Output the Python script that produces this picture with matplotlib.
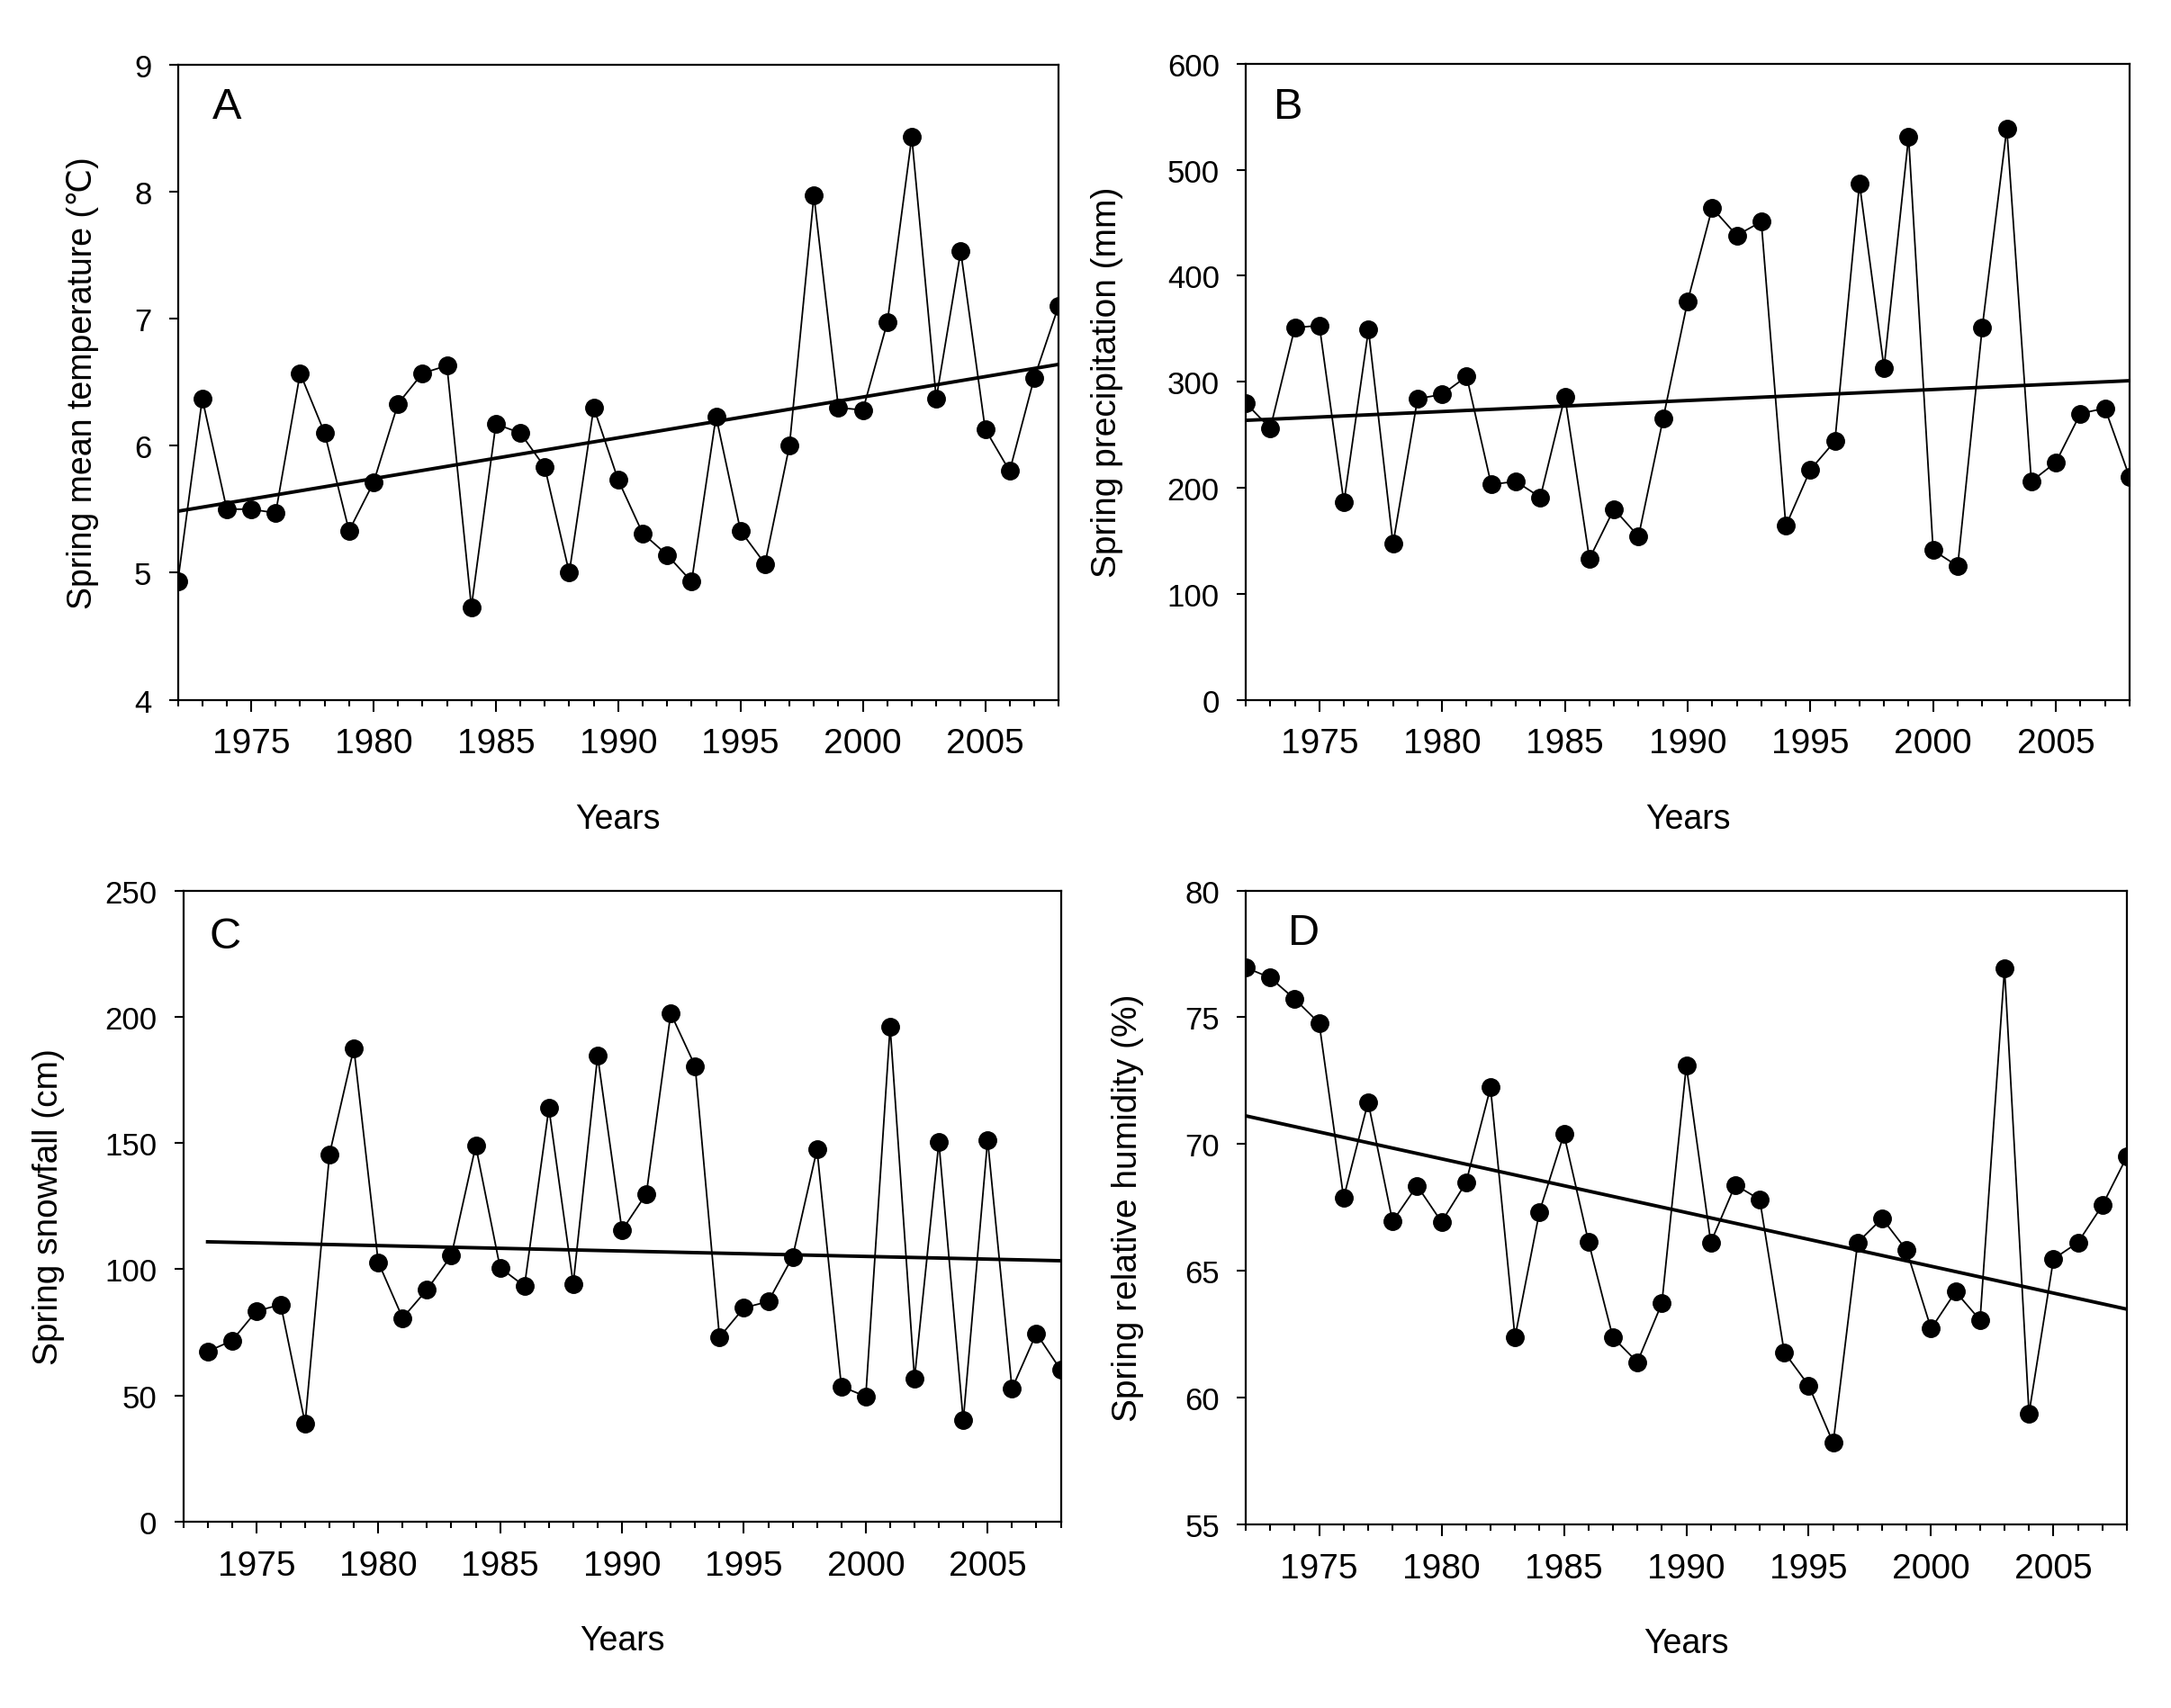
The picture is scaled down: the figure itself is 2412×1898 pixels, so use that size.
import numpy as np
import matplotlib
matplotlib.use('Agg')
import matplotlib.pyplot as plt
from matplotlib.ticker import MultipleLocator

plt.rcParams['font.family'] = ['Liberation Sans', 'DejaVu Sans', 'Noto Sans CJK SC']

years = list(range(1972, 2009))
snow_years = list(range(1973, 2009))

temp = [4.93, 6.37, 5.50, 5.50, 5.47, 6.57, 6.10, 5.33, 5.71, 6.33,
        6.57, 6.63, 4.73, 6.17, 6.10, 5.83, 5.00, 6.30, 5.73, 5.31,
        5.14, 4.93, 6.23, 5.33, 5.07, 6.00, 7.97, 6.30, 6.28, 6.97,
        8.43, 6.37, 7.53, 6.13, 5.80, 6.53, 7.10]

precip = [280, 256, 351, 353, 186, 349, 147, 284, 288, 305,
          203, 206, 191, 286, 133, 180, 154, 265, 376, 464,
          438, 451, 164, 217, 244, 487, 313, 531, 141, 126,
          351, 539, 206, 224, 270, 275, 210]

snow = [67.4, 71.7, 83.4, 86.0, 38.9, 145.5, 187.5, 102.8, 80.7,
        91.9, 105.4, 148.9, 100.6, 93.3, 163.8, 94.2, 184.5, 115.4,
        129.9, 201.3, 180.5, 73.1, 84.7, 87.2, 104.9, 147.4, 53.6,
        49.6, 196.1, 56.7, 150.3, 40.1, 151.2, 52.7, 74.6, 60.1]

humid = [76.96, 76.56, 75.72, 74.77, 67.88, 71.66, 66.95, 68.36, 66.93,
         68.48, 72.23, 62.38, 67.33, 70.39, 66.16, 62.38, 61.40, 63.72,
         73.09, 66.12, 68.39, 67.81, 61.79, 60.48, 58.22, 66.12, 67.07,
         65.81, 62.72, 64.18, 63.06, 76.92, 59.38, 65.47, 66.12, 67.59,
         69.51]

panels = [
    # letter, x, y, ylabel, ylim, ystep, rect, ylabel x, ylabel size, letter pos
    ('A', years, temp, 'Spring mean temperature (\u2103)', (4, 9), 1,
     [0.0819, 0.590, 0.4057, 0.3717], -0.108, 27, (0.039, 0.965)),
    ('B', years, precip, 'Spring precipitation (mm)', (0, 600), 100,
     [0.5738, 0.590, 0.4071, 0.3722], -0.157, 28, (0.032, 0.965)),
    ('C', snow_years, snow, 'Spring snowfall (cm)', (0, 250), 50,
     [0.0844, 0.109, 0.4042, 0.3694], -0.153, 28, (0.030, 0.960)),
    ('D', years, humid, 'Spring relative humidity (%)', (55, 80), 5,
     [0.5738, 0.1074, 0.4059, 0.3710], -0.134, 28, (0.048, 0.965)),
]

fig = plt.figure(figsize=(24.12, 18.99), dpi=100)

for letter, x, y, ylabel, ylim, ystep, rect, ylx, yls, lpos in panels:
    ax = fig.add_axes(rect)
    ax.plot(x, y, '-', color='black', linewidth=1.3, marker='o',
            markersize=14, markerfacecolor='black', markeredgecolor='black',
            zorder=3)
    # linear trend
    k, b = np.polyfit(x, y, 1)
    xx = np.array([x[0], x[-1]])
    ax.plot(xx, k * xx + b, '-', color='black', linewidth=2.8, zorder=2)

    ax.set_xlim(1972, 2008)
    ax.set_ylim(*ylim)
    ax.xaxis.set_minor_locator(MultipleLocator(1))
    ax.yaxis.set_major_locator(MultipleLocator(ystep))
    ax.set_xticks([1975, 1980, 1985, 1990, 1995, 2000, 2005])

    ax.tick_params(axis='x', which='major', direction='out', length=9,
                   width=1.5, pad=13, labelsize=28, top=False)
    ax.tick_params(axis='x', which='minor', direction='out', length=5,
                   width=1.5, top=False)
    ax.tick_params(axis='y', which='major', direction='out', length=7,
                   width=1.5, pad=14, labelsize=25, right=False)
    for s in ax.spines.values():
        s.set_linewidth(1.6)

    ax.set_xlabel('Years', fontsize=27)
    ax.xaxis.set_label_coords(0.5, -0.162)
    ax.set_ylabel(ylabel, fontsize=yls, va='center')
    ax.yaxis.set_label_coords(ylx, 0.5)

    ax.text(lpos[0], lpos[1], letter, transform=ax.transAxes, fontsize=35,
            ha='left', va='top')

fig.savefig('out.png', dpi=100)
